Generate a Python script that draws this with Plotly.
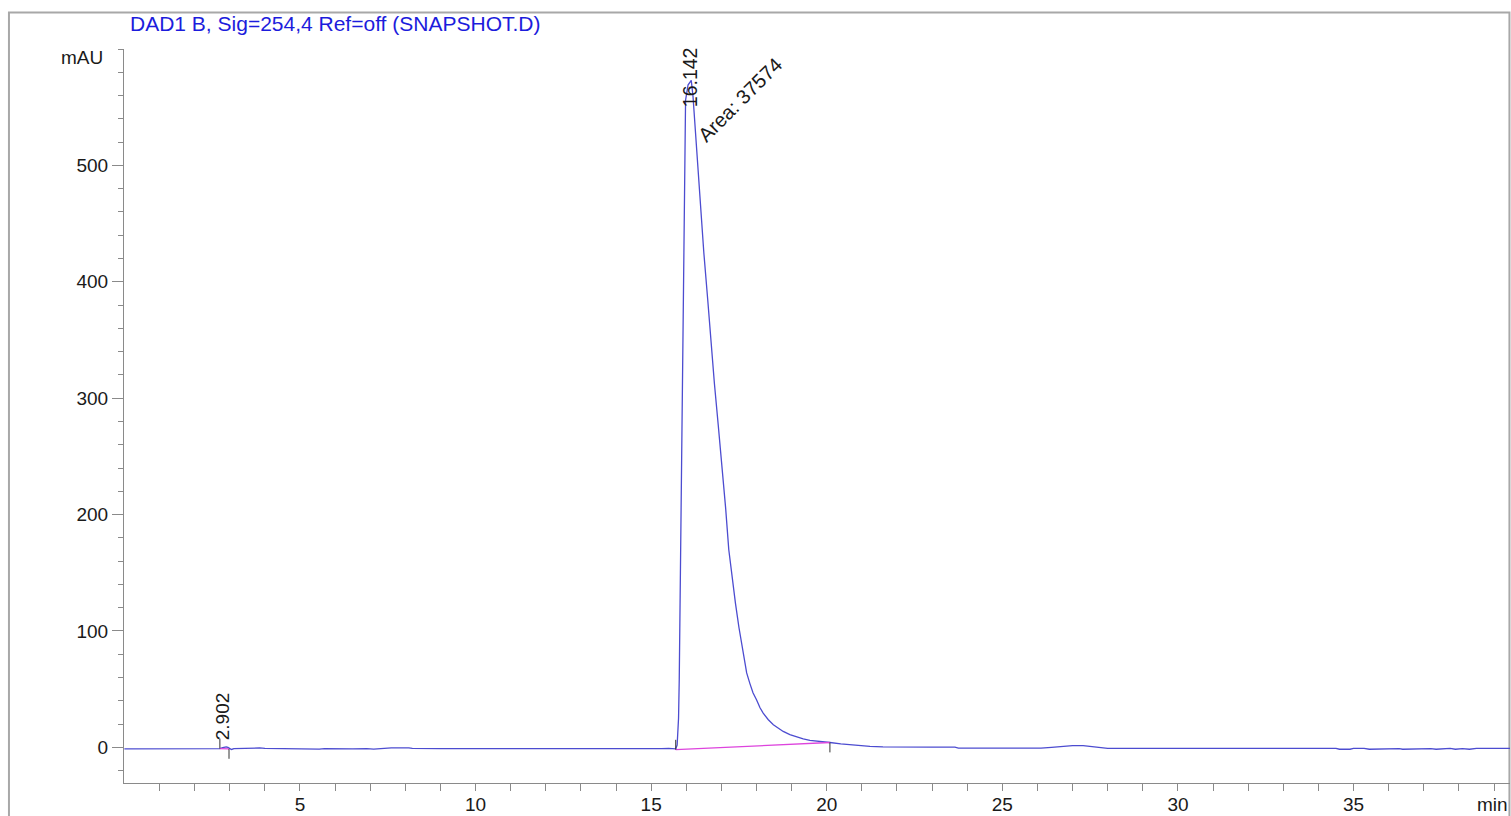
import plotly.graph_objects as go

# ---- chromatogram data (DAD1 B, 254 nm) ----
time_min = [
    0.0, 1.0, 2.0, 2.6, 2.72, 2.80, 2.86, 2.902, 2.95, 3.0, 3.05, 3.12, 3.3, 3.45,
    3.55, 3.7, 3.85, 4.0, 4.4, 4.55, 4.8, 5.0, 5.4, 5.55, 5.7, 6.0, 6.2, 6.5, 6.9,
    7.1, 7.4, 7.6, 8.1, 8.2, 9.0, 10.0, 11.0, 11.9, 12.0, 12.2, 12.4, 12.6, 12.9,
    13.1, 13.3, 13.5, 13.8, 14.1, 14.4, 14.7, 15.0, 15.3, 15.5, 15.70,
    15.74, 15.78, 15.80, 15.82, 15.84, 15.87, 15.90, 15.95, 15.98, 16.05, 16.142,
    16.19, 16.25, 16.32, 16.39, 16.50, 16.61, 16.70, 16.80, 16.91, 17.02, 17.12,
    17.21, 17.30, 17.40, 17.50, 17.62, 17.72, 17.81, 17.90, 18.00, 18.10, 18.19,
    18.33, 18.48, 18.62, 18.76, 18.95, 19.14, 19.33, 19.52, 19.71, 19.90, 20.09,
    20.4, 20.66, 20.95, 21.23, 21.6, 22.0, 23.0, 23.65, 23.75, 25.0, 26.1, 26.4,
    26.7, 27.0, 27.3, 27.55, 27.8, 28.0, 30.0, 32.0, 34.5, 34.6, 34.9, 35.0, 35.3,
    35.45, 35.8, 36.0, 36.3, 36.4, 36.7, 36.9, 37.2, 37.35, 37.6, 37.75, 37.9,
    38.1, 38.3, 38.5, 39.0, 39.5,
]
signal_mau = [
    -1.3, -1.3, -1.3, -1.2, -1.0, -0.3, 0.2, 0.4, 0.0, -1.2, -1.8, -1.0, -0.8, -0.4,
    -0.9, -0.6, -0.5, -0.9, -1.0, -1.5, -1.4, -1.0, -1.1, -1.5, -1.0, -1.2, -1.6, -1.2, -1.1,
    -1.5, -0.9, -0.5, -0.5, -0.9, -1.0, -1.0, -1.0, -1.0, -1.6, -1.3, -1.6, -1.2, -1.6,
    -1.2, -1.6, -1.2, -1.5, -1.2, -1.6, -1.1, -1.5, -1.1, -0.9, -1.2,
    2.0, 25.0, 58.0, 120.0, 170.0, 270.0, 376.0, 500.0, 556.0, 569.0, 573.0,
    560.0, 533.0, 500.0, 470.0, 425.0, 385.0, 349.0, 313.0, 277.0, 241.0, 206.0,
    170.0, 147.0, 124.0, 103.0, 80.0, 64.0, 55.0, 47.0, 41.0, 34.0, 29.5,
    24.0, 19.5, 16.3, 13.7, 11.0, 8.9, 7.3, 6.0, 5.2, 4.6, 4.2,
    3.0, 2.3, 1.5, 0.9, 0.5, 0.3, 0.2, 0.2, -0.6, -0.7, -0.7, 0.0,
    0.8, 1.5, 1.5, 0.6, -0.6, -0.8, -0.8, -0.8, -0.8, -1.6, -1.6, -0.9, -0.9,
    -1.6, -1.5, -1.0, -1.0, -1.6, -1.4, -0.9, -1.0, -1.6, -1.5, -0.9, -1.6,
    -1.0, -1.6, -0.9, -0.9, -0.9,
]

# integrated peaks: retention time, baseline start/end (time, value), area
peak_rt = [2.902, 16.142]
peak_start = [(2.72, -1.0), (15.70, -2.0)]
peak_end = [(2.98, -1.3), (20.09, 4.2)]
main_area = 37574

x_major = [5, 10, 15, 20, 25, 30, 35]
y_major = [0, 100, 200, 300, 400, 500]

FONT = "Liberation Sans, Arial, Helvetica, sans-serif"
TRACE = "#4c4cd0"
BASE = "#dd44dd"
AXIS = "#8a8a8a"
TICK_MARK = 8.5  # mAU length of the integration event marks

fig = go.Figure()

# signal
fig.add_trace(go.Scatter(
    x=time_min, y=signal_mau, mode="lines",
    line=dict(color=TRACE, width=1.3), hoverinfo="skip",
))

# integration baselines and start/end event marks
for (ts, vs), (te, ve) in zip(peak_start, peak_end):
    fig.add_trace(go.Scatter(
        x=[ts, te], y=[vs, ve], mode="lines",
        line=dict(color=BASE, width=1.3), hoverinfo="skip",
    ))
    fig.add_trace(go.Scatter(
        x=[ts, ts, None, te, te],
        y=[vs, vs + TICK_MARK, None, ve, ve - TICK_MARK],
        mode="lines", line=dict(color="#333333", width=1), hoverinfo="skip",
    ))

fig.update_layout(
    width=1511, height=816,
    margin=dict(l=124, r=1, t=49, b=33, autoexpand=False),
    paper_bgcolor="white", plot_bgcolor="white",
    showlegend=False,
    font=dict(family=FONT, size=19, color="#1a1a1a"),
)

fig.update_xaxes(
    range=[-0.01, 39.455], automargin=False,
    showgrid=False, zeroline=False,
    showline=True, linecolor=AXIS, linewidth=1,
    tickmode="array",
    tickvals=list(range(1, 40)),
    ticktext=[str(v) if v in x_major else "" for v in range(1, 40)],
    ticks="outside", ticklen=7, tickcolor=AXIS, tickwidth=1,
    ticklabelstandoff=-3,
    tickfont=dict(family=FONT, size=19, color="#1a1a1a"),
)

fig.update_yaxes(
    range=[-30.6, 600], automargin=False,
    showgrid=False, zeroline=False,
    showline=True, linecolor=AXIS, linewidth=1,
    tickmode="array", tickvals=y_major,
    ticktext=[str(v) for v in y_major],
    ticks="outside", ticklen=11, tickcolor=AXIS, tickwidth=1,
    tickfont=dict(family=FONT, size=19, color="#1a1a1a"),
    minor=dict(tickmode="array", tickvals=list(range(-20, 601, 20)),
               ticks="outside", ticklen=5, tickcolor=AXIS, tickwidth=1),
)

# outer frame
fig.add_shape(type="rect", xref="paper", yref="paper",
              x0=-0.083, x1=0.9996, y0=-0.2, y1=1.0497,
              line=dict(color="#a8a8a8", width=2), layer="below")

annotations = [
    dict(text="DAD1 B, Sig=254,4 Ref=off (SNAPSHOT.D)", xref="paper", yref="paper",
         x=0.0030, y=1.0345, xanchor="left", yanchor="middle", showarrow=False,
         font=dict(family=FONT, size=21, color="#1c1cdc")),
    dict(text="mAU", xref="paper", yref="paper", x=-0.0135, y=0.988,
         xanchor="right", yanchor="middle", showarrow=False,
         font=dict(family=FONT, size=19, color="#1a1a1a")),
    dict(text="min", xref="paper", yref="paper", x=1.0, y=-0.029,
         xanchor="right", yanchor="middle", showarrow=False,
         font=dict(family=FONT, size=19, color="#1a1a1a")),
    dict(text=f"{peak_rt[0]:.3f}", x=peak_rt[0], y=27, xref="x", yref="y",
         xshift=-3, textangle=-90, showarrow=False,
         xanchor="center", yanchor="middle",
         font=dict(family=FONT, size=19, color="#1a1a1a")),
    dict(text=f"{peak_rt[1]:.3f}", x=peak_rt[1], y=576, xref="x", yref="y",
         xshift=-1, textangle=-90, showarrow=False,
         xanchor="center", yanchor="middle",
         font=dict(family=FONT, size=19.5, color="#1a1a1a")),
    dict(text=f"Area: {main_area}", x=17.53, y=556, xref="x", yref="y",
         textangle=-45, showarrow=False, xanchor="center", yanchor="middle",
         font=dict(family=FONT, size=20, color="#1a1a1a")),
]
fig.update_layout(annotations=annotations)

fig.write_html("out.html")
